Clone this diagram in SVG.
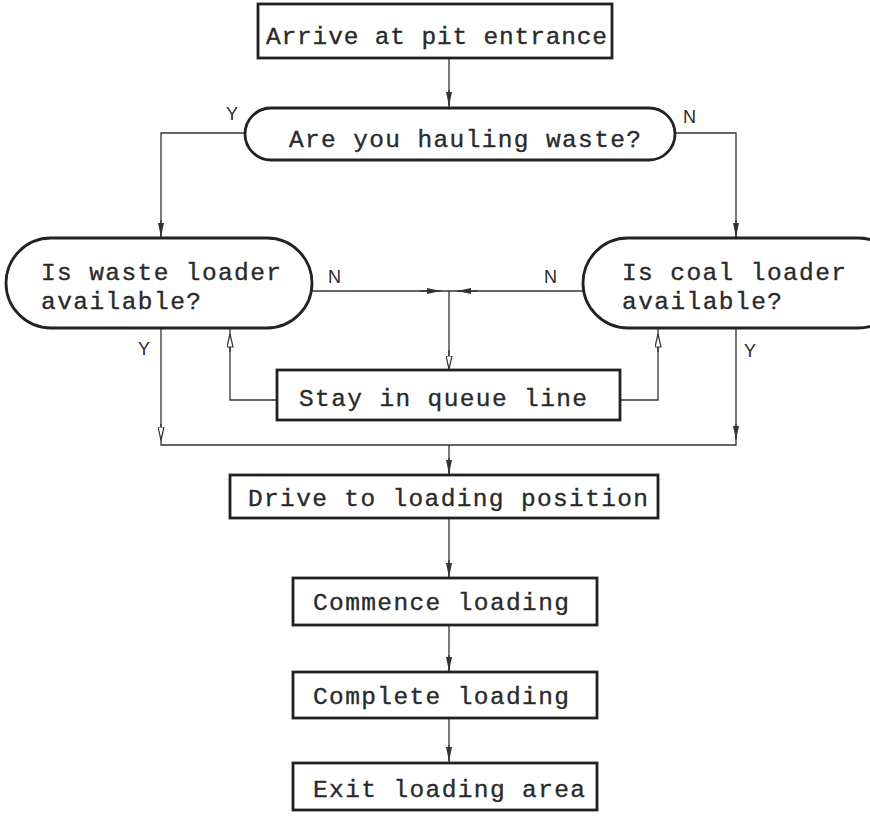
<svg xmlns="http://www.w3.org/2000/svg" width="870" height="817" viewBox="0 0 870 817">
<defs>
<style>
.box{fill:#fff;stroke:#222;stroke-width:2.8}
.t{font-family:"Liberation Mono","DejaVu Sans Mono",monospace;font-size:24.5px;fill:#2a2a2a;stroke:#2a2a2a;stroke-width:0.35}
.lbl{font-family:"Liberation Sans",Arial,sans-serif;font-size:18px;fill:#2a2a2a}
.c{fill:none;stroke:#333;stroke-width:1.3}
</style>
<marker id="af" viewBox="0 0 14 6" refX="14" refY="3" markerWidth="14" markerHeight="6" markerUnits="userSpaceOnUse" orient="auto"><path d="M0,0 L14,3 L0,6 z" fill="#333"/></marker>
<marker id="ao" viewBox="0 0 14 7" refX="13.5" refY="3.5" markerWidth="14" markerHeight="7" markerUnits="userSpaceOnUse" orient="auto"><path d="M0.5,0.5 L13.5,3.5 L0.5,6.5 z" fill="#fff" stroke="#333" stroke-width="1.2"/></marker>
</defs>
<rect width="870" height="817" fill="#fff"/>
<g id="connectors">
<path class="c" d="M449 58 V108"/>
<path class="c" d="M449 90 V106" marker-end="url(#af)"/>
<path class="c" d="M245 133 H161 V238"/>
<path class="c" d="M161 220 V237" marker-end="url(#af)"/>
<path class="c" d="M675 133 H736 V238"/>
<path class="c" d="M736 220 V237" marker-end="url(#af)"/>
<path class="c" d="M312 291 H583"/>
<path class="c" d="M420 291 H441" marker-end="url(#af)"/>
<path class="c" d="M478 291 H457" marker-end="url(#af)"/>
<path class="c" d="M449 291 V370"/>
<path class="c" d="M449 350 V369" marker-end="url(#ao)"/>
<path class="c" d="M277 400 H230 V328"/>
<path class="c" d="M230 352 V334" marker-end="url(#ao)"/>
<path class="c" d="M620 400 H658 V328"/>
<path class="c" d="M658 352 V334" marker-end="url(#ao)"/>
<path class="c" d="M161 328 V445 H736 V328"/>
<path class="c" d="M161 424 V440" marker-end="url(#ao)"/>
<path class="c" d="M736 424 V440" marker-end="url(#af)"/>
<path class="c" d="M449 445 V475"/>
<path class="c" d="M449 458 V474" marker-end="url(#af)"/>
<path class="c" d="M449 518 V578"/>
<path class="c" d="M449 560 V577" marker-end="url(#af)"/>
<path class="c" d="M449 625 V672"/>
<path class="c" d="M449 655 V671" marker-end="url(#af)"/>
<path class="c" d="M449 718 V763"/>
<path class="c" d="M449 745 V761" marker-end="url(#af)"/>
<text class="lbl" x="226" y="120">Y</text>
<text class="lbl" x="683" y="123">N</text>
<text class="lbl" x="328" y="283">N</text>
<text class="lbl" x="544" y="283">N</text>
<text class="lbl" x="138" y="355">Y</text>
<text class="lbl" x="744" y="357">Y</text>
</g>
<g id="arrive">
<rect class="box" x="258" y="4" width="354" height="54"/>
<text class="t" x="266" y="44" textLength="341" lengthAdjust="spacing">Arrive at pit entrance</text>
</g>
<g id="hauling">
<rect class="box" x="245" y="108" width="430" height="52" rx="26"/>
<text class="t" x="289" y="147" textLength="352" lengthAdjust="spacing">Are you hauling waste?</text>
</g>
<g id="waste-loader">
<rect class="box" x="6" y="238" width="306" height="90" rx="45"/>
<text class="t" x="41" y="280" textLength="240" lengthAdjust="spacing">Is waste loader</text>
<text class="t" x="41" y="309" textLength="160" lengthAdjust="spacing">available?</text>
</g>
<g id="coal-loader">
<rect class="box" x="583" y="238" width="320" height="90" rx="45"/>
<text class="t" x="622" y="280" textLength="224" lengthAdjust="spacing">Is coal loader</text>
<text class="t" x="622" y="309" textLength="160" lengthAdjust="spacing">available?</text>
</g>
<g id="queue">
<rect class="box" x="277" y="370" width="343" height="50"/>
<text class="t" x="299" y="406" textLength="288" lengthAdjust="spacing">Stay in queue line</text>
</g>
<g id="drive">
<rect class="box" x="230" y="475" width="428" height="43"/>
<text class="t" x="248" y="506" textLength="400" lengthAdjust="spacing">Drive to loading position</text>
</g>
<g id="commence">
<rect class="box" x="293" y="578" width="304" height="47"/>
<text class="t" x="313" y="610" textLength="256" lengthAdjust="spacing">Commence loading</text>
</g>
<g id="complete">
<rect class="box" x="293" y="672" width="304" height="46"/>
<text class="t" x="313" y="704" textLength="256" lengthAdjust="spacing">Complete loading</text>
</g>
<g id="exit">
<rect class="box" x="293" y="763" width="304" height="47"/>
<text class="t" x="313" y="797" textLength="272" lengthAdjust="spacing">Exit loading area</text>
</g>
</svg>
